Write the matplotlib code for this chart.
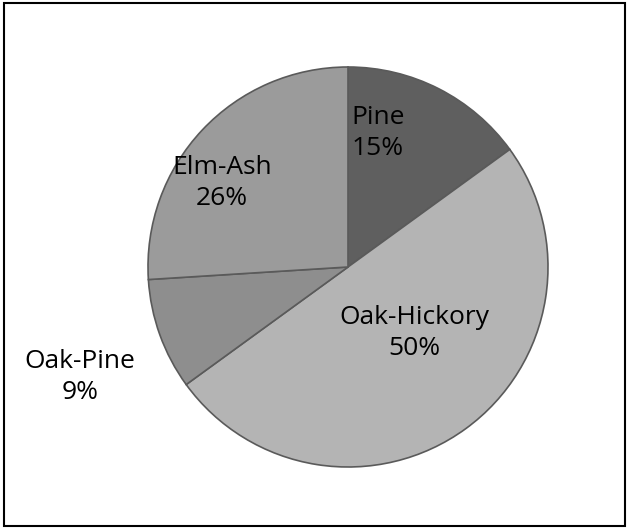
import matplotlib
matplotlib.use("Agg")
import matplotlib.pyplot as plt
from matplotlib.patches import Rectangle

# ── data ──────────────────────────────────────────────────────────────────────
labels = ["Pine", "Oak-Hickory", "Oak-Pine", "Elm-Ash"]
values = [15, 50, 9, 26]
colors = ["#5f5f5f", "#b4b4b4", "#8e8e8e", "#9b9b9b"]
# label anchor points in units of pie radius
label_pos = [(0.15, 0.67), (0.33, -0.33), (-1.34, -0.55), (-0.63, 0.42)]

plt.rcParams["font.family"] = ["Open Sans", "DejaVu Sans"]

fig = plt.figure(figsize=(6.29, 5.29), dpi=100)
ax = fig.add_axes([0, 0, 1, 1])
ax.pie(values, colors=colors, startangle=90, counterclock=False, radius=1,
       wedgeprops=dict(edgecolor="#5a5a5a", linewidth=1.2))
for lab, v, (x, y) in zip(labels, values, label_pos):
    ax.text(x, y, f"{lab}\n{v}%", ha="center", va="center", fontsize=19,
            color="black", linespacing=1.35)

ax.set_xlim(-1.74, 1.405)
ax.set_ylim(-1.31, 1.335)
ax.set_aspect("equal")
ax.axis("off")

# outer frame
fig.patches.append(Rectangle((0.006, 0.006), 0.988, 0.988, transform=fig.transFigure,
                             fill=False, edgecolor="black", linewidth=1.5))

fig.savefig("out.png", dpi=100)
